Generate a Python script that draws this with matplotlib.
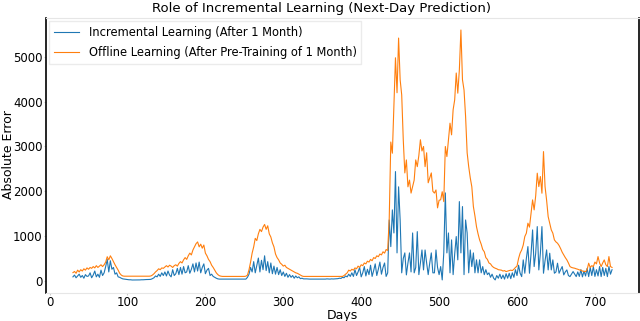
import numpy as np
import matplotlib
matplotlib.use("Agg")
import matplotlib.pyplot as plt

# Absolute error every 2 days, starting at day 30
offline = [
    185, 210, 170, 240, 200, 250, 220, 270, 240, 290,        # 30
    260, 300, 280, 320, 290, 340, 300, 330, 360, 320,        # 50
    360, 420, 540, 470, 560, 500, 430, 360, 300, 240,        # 70
    170, 130, 110, 105, 105, 105, 105, 105, 105, 105,        # 90
    105, 105, 105, 105, 105, 105, 105, 105, 105, 105,        # 110
    110, 130, 160, 200, 230, 270, 250, 290, 280, 310,        # 130
    340, 310, 350, 330, 300, 340, 360, 330, 390, 430,        # 150
    400, 470, 520, 480, 560, 620, 580, 690, 760, 830,        # 170
    870, 760, 820, 730, 800, 620, 560, 480, 430, 350,        # 190
    300, 240, 180, 140, 115, 105, 100, 100, 100, 100,        # 210
    100, 100, 100, 100, 100, 100, 100, 100, 100, 100,        # 230
    100, 105, 130, 250, 420, 620, 760, 950, 900, 1050,       # 250
    1150, 1100, 1200, 1260, 1150, 1230, 1050, 980, 850, 760, # 270
    600, 520, 470, 400, 370, 330, 350, 300, 280, 260,        # 290
    240, 220, 200, 180, 170, 150, 130, 110, 100, 100,        # 310
    100, 100, 100, 100, 100, 100, 100, 100, 100, 100,        # 330
    100, 100, 100, 100, 100, 100, 100, 100, 100, 100,        # 350
    100, 100, 100, 100, 120, 150, 180, 240, 220, 260,        # 370
    240, 290, 270, 330, 300, 360, 340, 400, 380, 440,        # 390
    420, 480, 450, 520, 500, 560, 540, 600, 580, 650,        # 410
    620, 700, 680, 1400, 3100, 2850, 3900, 4980, 4200, 5420, # 430
    4490, 4150, 3150, 2410, 2700, 2100, 2250, 1960, 2100, 2250,  # 450
    2700, 2550, 2800, 3150, 2900, 3000, 2550, 2860, 2190, 2300,  # 470
    2410, 2000, 1960, 2030, 1630, 1800, 1810, 1990, 1770, 3000,  # 490
    2775, 3150, 3520, 3260, 3820, 4040, 4640, 4190, 4710, 5600,  # 510
    4490, 4260, 3670, 2860, 2550, 2300, 2100, 1660, 1450, 1210,  # 530
    1050, 915, 820, 700, 650, 520, 480, 400, 380, 330,       # 550
    300, 283, 270, 250, 245, 240, 220, 230, 208, 220,        # 570
    230, 240, 230, 260, 300, 330, 500, 620, 690, 800,        # 590
    990, 1065, 1288, 1200, 1511, 1808, 1585, 1900, 2404, 2105,   # 610
    2329, 1957, 2886, 2105, 1800, 1435, 1288, 1138, 1065, 915,   # 630
    870, 841, 790, 720, 640, 580, 520, 469, 400, 320,        # 650
    300, 290, 283, 270, 260, 245, 240, 220, 210, 208,        # 670
    250, 395, 300, 340, 320, 420, 380, 543, 400, 320,        # 690
    400, 469, 360, 320, 543, 320, 300,                       # 710
]

incremental = [
    90, 130, 70, 110, 150, 80, 120, 60, 140, 100,            # 30
    110, 180, 70, 130, 220, 90, 150, 80, 240, 120,           # 50
    180, 320, 480, 200, 450, 260, 300, 150, 180, 90,         # 70
    80, 60, 45, 40, 35, 30, 25, 25, 20, 20,                  # 90
    20, 20, 20, 22, 25, 25, 28, 30, 30, 32,                  # 110
    35, 50, 70, 110, 90, 150, 100, 180, 120, 200,            # 130
    110, 220, 130, 90, 250, 120, 160, 280, 140, 300,         # 150
    150, 320, 180, 200, 340, 170, 260, 380, 200, 400,        # 170
    220, 420, 180, 300, 380, 160, 240, 280, 120, 150,        # 190
    100, 80, 60, 45, 40, 40, 38, 38, 38, 38,                 # 210
    38, 38, 38, 38, 38, 38, 38, 38, 38, 38,                  # 230
    38, 40, 80, 150, 300, 200, 430, 180, 350, 510,           # 250
    200, 460, 250, 560, 230, 430, 180, 400, 160, 330,        # 270
    150, 300, 140, 250, 120, 200, 100, 170, 80, 140,         # 290
    80, 120, 60, 110, 70, 90, 50, 60, 45, 45,                # 310
    45, 42, 40, 40, 42, 40, 40, 42, 40, 40,                  # 330
    40, 42, 40, 45, 42, 40, 45, 42, 45, 48,                  # 350
    50, 60, 55, 80, 70, 110, 90, 150, 100, 180,              # 370
    100, 250, 120, 200, 300, 90, 180, 320, 110, 260,         # 390
    140, 350, 100, 230, 380, 120, 260, 420, 150, 300,        # 410
    400, 100, 180, 1360, 765, 1585, 1070, 2440, 625, 2100,   # 430
    1360, 180, 500, 625, 134, 400, 625, 200, 1070, 180,      # 450
    300, 1100, 140, 400, 690, 245, 690, 400, 140, 400,       # 470
    625, 180, 180, 690, 300, 140, 320, 22, 625, 1964,        # 490
    625, 1070, 180, 915, 140, 600, 990, 470, 1770, 625,      # 510
    1659, 140, 1360, 1070, 180, 690, 320, 625, 180, 470,     # 530
    180, 470, 180, 320, 140, 250, 140, 180, 80, 150,         # 550
    60, 22, 120, 60, 150, 50, 130, 40, 160, 60,              # 570
    170, 50, 180, 80, 250, 120, 350, 171, 96, 469,           # 590
    171, 500, 766, 171, 600, 1138, 320, 618, 1212, 245,      # 610
    618, 1212, 171, 450, 692, 245, 618, 245, 469, 171,       # 630
    200, 395, 171, 250, 320, 134, 200, 245, 120, 96,         # 650
    150, 208, 150, 96, 200, 100, 250, 90, 220, 110,          # 670
    280, 96, 300, 120, 320, 100, 250, 110, 320, 96,          # 690
    300, 120, 280, 96, 320, 150, 250,                        # 710
]

days = np.arange(30, 30 + 2 * len(offline), 2)

fig = plt.figure(figsize=(6.4, 3.21), dpi=100)
ax = fig.add_axes([46 / 640, 1 - 292.5 / 321, (639 - 46) / 640, (292.5 - 17.5) / 321])

ax.plot(days, incremental, color="#1f77b4", lw=0.8,
        label="Incremental Learning (After 1 Month)")
ax.plot(days, offline, color="#ff7f0e", lw=0.8,
        label="Offline Learning (After Pre-Training of 1 Month)")

ax.set_xticks([0, 100, 200, 300, 400, 500, 600, 700])
ax.set_yticks([0, 1000, 2000, 3000, 4000, 5000])
ax.tick_params(labelsize=8.5, length=1.5, color="#cccccc", pad=1)

for s in ("left", "right"):
    ax.spines[s].set_color("black")
    ax.spines[s].set_linewidth(1.2)
for s in ("top", "bottom"):
    ax.spines[s].set_color("#e6e6e6")
    ax.spines[s].set_linewidth(0.8)

fig.text(321.5 / 640, 1 - 8.5 / 321,
         "Role of Incremental Learning (Next-Day Prediction)",
         fontsize=9.5, ha="center", va="center")
ax.set_xlabel("Days", fontsize=9, labelpad=0)
ax.yaxis.set_label_coords(-37.5 / 593, 0.5)
ax.set_ylabel("Absolute Error", fontsize=9, va="center")
ax.legend(loc="upper left", fontsize=8.3, frameon=True, fancybox=False,
          edgecolor="#e6e6e6", borderaxespad=0.3, labelspacing=0.65,
          handlelength=2.2)

fig.savefig("out.png", dpi=100)
